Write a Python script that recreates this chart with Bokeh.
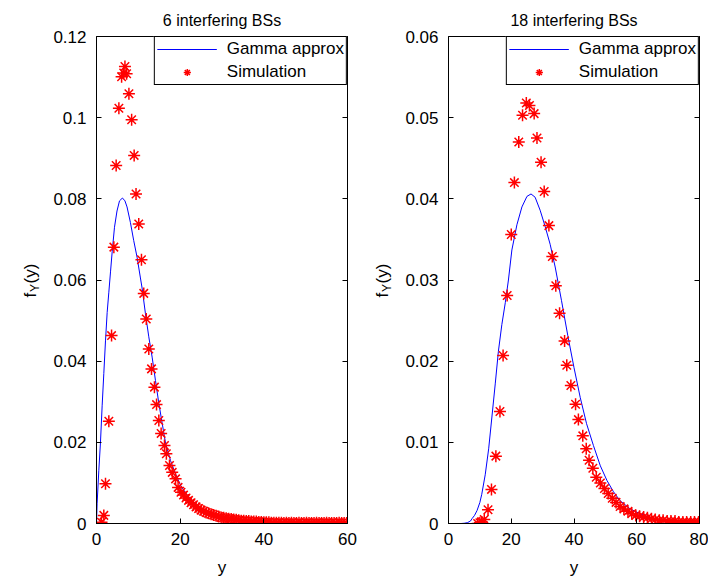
import math
from bokeh.plotting import figure
from bokeh.layouts import row
from bokeh.models import FixedTicker, LinearAxis, Label, Range1d, Legend, LegendItem
from bokeh.embed import file_html
from bokeh.resources import INLINE

FONT = "Liberation Sans"
H = 579

# ---------------- data: 6 interfering BSs ----------------
gamma6_x = [0, 0.15, 0.55, 0.95, 1.35, 1.75, 2.15, 2.55, 2.95, 3.35, 3.75, 4.3, 4.9, 5.5, 6.2,
            6.8, 7.3, 8.1, 8.9, 9.7, 10.5, 10.9, 11.7, 12.5, 13.3, 14.1, 14.9, 15.7, 16.5, 17.7,
            18.9, 20.1, 21.7, 23.3, 24.9, 26.5, 28.0, 30.0, 32.0, 34.0, 36.0, 38.0, 40.0, 45.0,
            50.0, 55.0, 60.0]
gamma6_y = [0, 0.005, 0.013, 0.020, 0.029, 0.037, 0.045, 0.052, 0.057, 0.062, 0.067, 0.073, 0.077,
            0.0795, 0.0802, 0.0795, 0.078, 0.0742, 0.0697, 0.0656, 0.0605, 0.058, 0.0517, 0.046,
            0.041, 0.0352, 0.0296, 0.0247, 0.0198, 0.0155, 0.0122, 0.0094, 0.0069, 0.0052, 0.0038,
            0.0027, 0.0019, 0.0012, 0.0008, 0.0005, 0.0003, 0.0002, 0.0001, 0.00005, 0, 0, 0]

sim6_x = [1.2, 1.75, 2.15, 2.95, 3.6, 4.15, 4.7, 5.35, 6.0, 6.5, 6.8, 7.2, 7.75, 8.4, 9.0, 9.45,
          10.1, 10.75, 11.3, 11.9, 12.5, 13.15, 13.85, 14.35, 14.9, 15.45, 16.25, 16.7, 17.45,
          18.1, 18.9, 19.5, 20.2, 20.8, 21.4, 22.0, 22.6, 23.2, 23.8, 24.4, 25.0, 25.6, 26.2, 26.8,
          27.4, 28.0, 28.6, 29.2, 29.8, 30.4, 31.0, 31.6, 32.2, 32.8, 33.4, 34.0, 34.6, 35.2, 35.8,
          36.4, 37.0, 37.6, 38.2, 38.8, 39.4, 40.0, 40.6, 41.2, 41.8, 42.4, 43.0, 43.6, 44.2, 44.8,
          45.4, 46.0, 46.6, 47.2, 47.8, 48.4, 49.0, 49.6, 50.2, 50.8, 51.4, 52.0, 52.6, 53.2, 53.8,
          54.4, 55.0, 55.6, 56.2, 56.8, 57.4, 58.0, 58.6, 59.2, 59.8]
sim6_y = [0.0003, 0.002, 0.0098, 0.0252, 0.0463, 0.0681, 0.0882, 0.1023, 0.1101, 0.1110, 0.1126,
          0.1108, 0.1059, 0.0995, 0.0907, 0.0812, 0.0738, 0.0650, 0.0567, 0.0504, 0.0430, 0.0381,
          0.0336, 0.0293, 0.0254, 0.0222, 0.0192, 0.0172, 0.0143, 0.0126, 0.0110, 0.0089, 0.0077,
          0.0070, 0.0063, 0.0057, 0.0051, 0.0046, 0.0041, 0.0037, 0.0033, 0.0030, 0.0027, 0.0025,
          0.0023, 0.0021, 0.0019, 0.0017, 0.0015, 0.0014, 0.0013, 0.0012, 0.0011, 0.0010, 0.0009,
          0.0008, 0.0007, 0.0007, 0.0006, 0.0006, 0.0005, 0.0005, 0.0005, 0.0004, 0.0004, 0.0003,
          0.0003, 0.0003, 0.0002, 0.0002, 0.0002, 0.0002, 0.0002, 0.0001, 0.0002, 0.0001, 0.0002,
          0.0001, 0.0001, 0.0002, 0.0001, 0.0001, 0.0002, 0.0001, 0.0001, 0.0001, 0.0002, 0.0001,
          0.0001, 0.0001, 0.0002, 0.0001, 0.0001, 0.0001, 0.0001, 0.0002, 0.0001, 0.0001, 0.0001]

# ---------------- data: 18 interfering BSs ----------------
gamma18_x = [0, 2, 4, 5, 6, 7, 7.5, 8.3, 9.1, 10.0, 10.6, 11.7, 12.8, 13.8, 14.9, 15.9, 17.0,
             18.1, 19.1, 20.2, 21.8, 23.4, 25.0, 26.3, 27.6, 29.2, 30.8, 32.4, 34.0, 36.0, 38.0,
             40.0, 42.0, 44.0, 46.2, 48.4, 50.5, 52.6, 54.7, 57.9, 61.1, 65.3, 69.6, 73.8, 80.0]
gamma18_y = [0, 0, 0, 0.00003, 0.0001, 0.0003, 0.0006, 0.0010, 0.0016, 0.0026, 0.0036, 0.0060,
             0.0092, 0.0130, 0.0172, 0.0212, 0.0245, 0.0272, 0.0300, 0.0337, 0.0368, 0.0390,
             0.0403, 0.0406, 0.0402, 0.0386, 0.0366, 0.0344, 0.0316, 0.0275, 0.0232, 0.0192,
             0.0155, 0.0123, 0.0096, 0.0071, 0.0053, 0.0039, 0.0028, 0.0018, 0.0012, 0.0006,
             0.0002, 0.0001, 0]

sim18_x = [9.3, 10.0, 10.6, 11.4, 12.6, 13.7, 15.1, 16.4, 17.4, 18.7, 20.0, 21.0, 22.4, 23.6,
           24.8, 25.8, 27.3, 28.2, 29.5, 30.5, 32.0, 33.1, 34.2, 35.4, 37.0, 37.7, 39.0, 40.5,
           41.4, 42.8, 43.9, 44.8, 46.0, 47.1, 48.4, 49.7, 50.9, 52.2, 53.4, 54.7, 55.9, 57.2,
           58.4, 59.7, 60.9, 62.2, 63.4, 64.7, 65.9, 67.2, 68.4, 69.7, 70.9, 72.2, 73.4, 74.7,
           75.9, 77.2, 78.4, 79.7]
sim18_y = [0.0, 0.0001, 0.0002, 0.0005, 0.0017, 0.0042, 0.0083, 0.0138, 0.0207, 0.0281, 0.0356,
           0.0420, 0.0470, 0.0503, 0.0518, 0.0515, 0.0505, 0.0475, 0.0445, 0.0409, 0.0367,
           0.0329, 0.0293, 0.0259, 0.0225, 0.0195, 0.0170, 0.0147, 0.0128, 0.0108, 0.0092,
           0.0078, 0.0068, 0.0057, 0.0050, 0.0043, 0.0037, 0.0031, 0.0026, 0.0021, 0.0018,
           0.0015, 0.0012, 0.0010, 0.0009, 0.0008, 0.0007, 0.0006, 0.0005, 0.0004, 0.0004,
           0.0003, 0.0003, 0.0003, 0.0002, 0.0002, 0.0002, 0.0002, 0.0002, 0.0002]

titles = ["6 interfering BSs", "18 interfering BSs"]
legend_labels = ["Gamma approx", "Simulation"]
x_label = "y"
y_label_parts = ["f", "Y", "(y)"]   # f_Y(y)

x_ticks_6 = [0, 20, 40, 60]
x_tick_labels_6 = ["0", "20", "40", "60"]
y_ticks_6 = [0, 0.02, 0.04, 0.06, 0.08, 0.1, 0.12]
y_tick_labels_6 = ["0", "0.02", "0.04", "0.06", "0.08", "0.1", "0.12"]

x_ticks_18 = [0, 20, 40, 60, 80]
x_tick_labels_18 = ["0", "20", "40", "60", "80"]
y_ticks_18 = [0, 0.01, 0.02, 0.03, 0.04, 0.05, 0.06]
y_tick_labels_18 = ["0", "0.01", "0.02", "0.03", "0.04", "0.05", "0.06"]


def style_axis(ax, fontsize="17px"):
    ax.major_tick_in = 5
    ax.major_tick_out = 0
    ax.minor_tick_in = 0
    ax.minor_tick_out = 0
    ax.axis_line_color = "black"
    ax.major_tick_line_color = "black"
    ax.major_label_text_font = FONT
    ax.major_label_text_font_size = fontsize
    ax.major_label_text_color = "black"


def make_ylabel_fig(width, base_x):
    # narrow companion figure carrying the rotated y-axis label (frame aligned with the plot)
    f = figure(width=width, height=H, output_backend="svg", toolbar_location=None,
               x_range=Range1d(0, 1), y_range=Range1d(0, 1),
               x_axis_type=None, y_axis_type=None, min_border=0,
               background_fill_color="white", border_fill_color="white")
    f.outline_line_color = None
    f.xgrid.visible = False
    f.ygrid.visible = False
    y0 = 226  # start of the rotated text, from the bottom of the aligned frame
    f.add_layout(Label(x=base_x, y=y0, x_units="screen", y_units="screen", text=y_label_parts[0],
                       angle=math.pi / 2, text_font=FONT, text_font_size="17px",
                       text_baseline="alphabetic", text_align="left", text_color="black"))
    f.add_layout(Label(x=base_x + 4, y=y0 + 5.5, x_units="screen", y_units="screen",
                       text=y_label_parts[1], angle=math.pi / 2, text_font=FONT,
                       text_font_size="12px", text_baseline="alphabetic", text_align="left",
                       text_color="black"))
    f.add_layout(Label(x=base_x, y=y0 + 14, x_units="screen", y_units="screen",
                       text=y_label_parts[2], angle=math.pi / 2, text_font=FONT,
                       text_font_size="17px", text_baseline="alphabetic", text_align="left",
                       text_color="black"))
    return f


def make_panel(title, gx, gy, sx, sy, xmax, ymax, xt, xtl, yt, ytl, width, min_left, min_right):
    p = figure(width=width, height=H, output_backend="svg", toolbar_location=None,
               x_range=Range1d(0, xmax), y_range=Range1d(0, ymax),
               min_border_left=min_left, min_border_right=min_right,
               min_border_top=36, min_border_bottom=56,
               background_fill_color="white", border_fill_color="white")
    p.title.text = title
    p.title.align = "center"
    p.title.text_font = FONT
    p.title.text_font_size = "16px"
    p.title.text_font_style = "normal"
    p.title.text_color = "black"
    p.title.standoff = 16

    p.xgrid.visible = False
    p.ygrid.visible = False
    p.outline_line_color = "black"
    p.outline_line_alpha = 1.0
    p.outline_line_width = 1

    p.xaxis.ticker = FixedTicker(ticks=xt)
    p.xaxis.major_label_overrides = dict(zip(xt, xtl))
    p.yaxis.ticker = FixedTicker(ticks=yt)
    p.yaxis.major_label_overrides = dict(zip(yt, ytl))
    style_axis(p.xaxis[0])
    style_axis(p.yaxis[0])
    p.xaxis.major_label_standoff = 9
    p.yaxis.major_label_standoff = 10
    p.xaxis.axis_label = x_label
    p.xaxis.axis_label_text_font = FONT
    p.xaxis.axis_label_text_font_size = "17px"
    p.xaxis.axis_label_text_font_style = "normal"
    p.xaxis.axis_label_text_color = "black"
    p.xaxis.axis_label_standoff = 10

    rax = LinearAxis(ticker=FixedTicker(ticks=yt), major_label_overrides={t: "" for t in yt})
    style_axis(rax, "0px")
    rax.major_label_standoff = 0
    p.add_layout(rax, "right")

    r1 = p.line(gx, gy, line_color="#0000ff", line_width=1)
    r2 = p.scatter(sx, sy, marker="asterisk", size=12, line_color="#ff0000", line_width=1.5)

    leg = Legend(items=[LegendItem(label=legend_labels[0], renderers=[r1]),
                        LegendItem(label=legend_labels[1], renderers=[r2])],
                 location="top_right", margin=0, padding=2, spacing=3,
                 glyph_width=60, glyph_height=18, label_height=18, label_standoff=10,
                 label_text_font=FONT, label_text_font_size="17px", label_text_color="black",
                 border_line_color="black", border_line_width=1, border_line_alpha=1,
                 background_fill_color="white", background_fill_alpha=1)
    p.add_layout(leg)
    return p


ylab1 = make_ylabel_fig(40, 30)
p1 = make_panel(titles[0], gamma6_x, gamma6_y, sim6_x, sim6_y, 60, 0.12,
                x_ticks_6, x_tick_labels_6, y_ticks_6, y_tick_labels_6, 320, 56, 13)
ylab2 = make_ylabel_fig(40, 22)
p2 = make_panel(titles[1], gamma18_x, gamma18_y, sim18_x, sim18_y, 80, 0.06,
                x_ticks_18, x_tick_labels_18, y_ticks_18, y_tick_labels_18, 308, 48, 9)

layout = row(ylab1, p1, ylab2, p2)
open("out.html", "w").write(file_html(layout, INLINE))
